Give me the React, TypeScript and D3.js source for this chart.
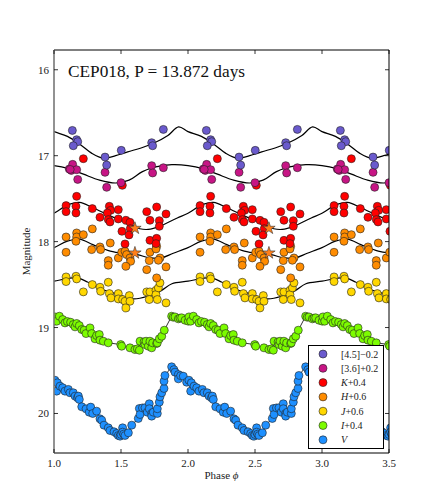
import React from "react";
import * as d3 from "d3";

// ---- data (phase-folded, one cycle; plotted magnitudes include legend offsets) ----
const irac45Phase = [0.137, 0.169, 0.177, 0.144, 0.381, 0.393, 0.502, 0.729, 0.736, 0.816];
const irac45Mag = [16.706, 16.814, 16.837, 16.884, 17.016, 17.109, 16.938, 16.849, 16.884, 16.694];

const irac36Phase = [0.114, 0.129, 0.139, 0.169, 0.177, 0.381, 0.393, 0.5, 0.729, 0.736, 0.816, 0.121];
const irac36Mag = [17.155, 17.171, 17.101, 17.163, 17.276, 17.194, 17.368, 17.314, 17.116, 17.201, 17.14, 17.16];

const kPhase = [0.219, 0.169, 0.51, 0.09, 0.09, 0.164, 0.164, 0.286, 0.413, 0.423, 0.398, 0.48, 0.343, 0.405, 0.418, 0.48, 0.537, 0.567, 0.507, 0.569, 0.56, 0.53, 0.692, 0.766, 0.836, 0.716, 0.786, 0.786, 0.716, 0.766, 0.761];
const kMag = [17.035, 17.473, 17.345, 17.581, 17.651, 17.589, 17.667, 17.616, 17.589, 17.636, 17.667, 17.628, 17.717, 17.744, 17.771, 17.736, 17.752, 17.775, 17.88, 17.849, 17.922, 18.027, 17.651, 17.597, 17.678, 17.752, 17.756, 17.822, 17.985, 17.962, 18.023];

const hPhase = [0.09, 0.169, 0.169, 0.164, 0.219, 0.286, 0.09, 0.281, 0.343, 0.348, 0.42, 0.405, 0.405, 0.48, 0.505, 0.53, 0.542, 0.567, 0.572, 0.537, 0.716, 0.711, 0.766, 0.761, 0.791, 0.779, 0.836, 0.692, 0.766];
const hMag = [17.946, 17.899, 17.946, 17.996, 17.919, 17.852, 18.124, 18.093, 18.062, 18.093, 18.016, 18.221, 18.275, 18.19, 18.124, 18.112, 18.151, 18.19, 18.229, 18.287, 18.124, 18.221, 18.055, 18.085, 18.19, 18.217, 18.294, 18.326, 18.422];

const jPhase = [0.09, 0.09, 0.164, 0.169, 0.219, 0.286, 0.343, 0.348, 0.405, 0.413, 0.425, 0.48, 0.48, 0.512, 0.53, 0.562, 0.567, 0.537, 0.692, 0.716, 0.711, 0.761, 0.761, 0.779, 0.791, 0.771, 0.836];
const jMag = [18.411, 18.465, 18.403, 18.434, 18.585, 18.5, 18.531, 18.578, 18.473, 18.605, 18.655, 18.605, 18.667, 18.674, 18.694, 18.628, 18.694, 18.772, 18.585, 18.585, 18.674, 18.566, 18.616, 18.538, 18.48, 18.674, 18.713];

const iPhase = [0.002, 0.007, 0.02, 0.04, 0.065, 0.082, 0.1, 0.124, 0.144, 0.157, 0.169, 0.189, 0.207, 0.225, 0.239, 0.269, 0.281, 0.306, 0.318, 0.338, 0.343, 0.368, 0.405, 0.498, 0.505, 0.567, 0.604, 0.622, 0.637, 0.642, 0.672, 0.679, 0.687, 0.704, 0.716, 0.729, 0.736, 0.766, 0.771, 0.786, 0.804, 0.823, 0.878, 0.89, 0.903, 0.928, 0.94, 0.953, 0.978];
const iMag = [18.926, 18.876, 18.926, 18.868, 18.907, 18.946, 18.93, 18.938, 18.965, 18.992, 18.953, 18.977, 19.023, 19.03, 19.07, 19.004, 19.07, 19.131, 19.093, 19.081, 19.147, 19.159, 19.178, 19.198, 19.217, 19.236, 19.256, 19.248, 19.264, 19.159, 19.167, 19.198, 19.159, 19.217, 19.159, 19.236, 19.178, 19.186, 19.178, 19.131, 19.101, 19.031, 18.868, 18.88, 18.876, 18.899, 18.89, 18.887, 18.915];

const vPhase = [0.007, 0.02, 0.025, 0.045, 0.065, 0.082, 0.107, 0.119, 0.144, 0.157, 0.175, 0.182, 0.189, 0.207, 0.239, 0.263, 0.274, 0.289, 0.318, 0.343, 0.356, 0.373, 0.405, 0.418, 0.448, 0.468, 0.48, 0.493, 0.5, 0.512, 0.512, 0.52, 0.53, 0.555, 0.58, 0.629, 0.637, 0.642, 0.66, 0.679, 0.696, 0.711, 0.711, 0.729, 0.729, 0.741, 0.771, 0.771, 0.786, 0.791, 0.804, 0.821, 0.821, 0.828, 0.878, 0.895, 0.903, 0.928, 0.928, 0.945, 0.965, 0.99];
const vMag = [19.613, 19.74, 19.643, 19.682, 19.701, 19.74, 19.72, 19.759, 19.759, 19.798, 19.817, 19.798, 19.837, 19.922, 19.946, 19.985, 19.926, 20.0, 19.973, 20.062, 20.078, 20.136, 20.167, 20.198, 20.213, 20.233, 20.256, 20.264, 20.245, 20.167, 20.217, 20.24, 20.256, 20.225, 20.136, 20.058, 19.942, 20.012, 19.935, 19.934, 19.985, 19.887, 19.945, 20.0, 20.031, 19.985, 20.0, 19.945, 19.868, 19.806, 19.759, 19.709, 19.624, 19.558, 19.457, 19.49, 19.519, 19.547, 19.597, 19.56, 19.566, 19.636];

// template curves (one cycle)
const tpl45Phase = [0, 0.1, 0.2, 0.28, 0.37, 0.46, 0.55, 0.65, 0.75, 0.85, 0.93];
const tpl45Mag = [16.72, 16.775, 16.875, 16.97, 17.03, 17.0, 16.955, 16.91, 16.85, 16.765, 16.665];
const tpl36Phase = [0, 0.11, 0.22, 0.34, 0.46, 0.56, 0.66, 0.76, 0.88];
const tpl36Mag = [17.115, 17.15, 17.215, 17.285, 17.318, 17.285, 17.185, 17.13, 17.105];
const tplKPhase = [0, 0.1, 0.19, 0.29, 0.42, 0.54, 0.64, 0.72, 0.82, 0.92];
const tplKMag = [17.67, 17.575, 17.543, 17.605, 17.7, 17.775, 17.85, 17.855, 17.8, 17.725];
const tplHPhase = [0, 0.1, 0.19, 0.29, 0.42, 0.54, 0.62, 0.72, 0.8, 0.89];
const tplHMag = [18.07, 17.995, 17.97, 18.035, 18.11, 18.14, 18.152, 18.19, 18.19, 18.135];
const tplJPhase = [0, 0.1, 0.17, 0.25, 0.34, 0.47, 0.59, 0.7, 0.8, 0.88];
const tplJMag = [18.46, 18.43, 18.42, 18.47, 18.545, 18.61, 18.665, 18.635, 18.57, 18.49];

const starPhase = [0.604, 0.604];
const starMag = [17.845, 18.132];

const legendLabels = ["[4.5]\u22120.2", "[3.6]+0.2", "K+0.4", "H+0.6", "J+0.6", "I+0.4", "V"];
const xTicks = [1.0, 1.5, 2.0, 2.5, 3.0, 3.5];
const yTicks = [16, 17, 18, 19, 20];
const titleText = "CEP018, P = 13.872 days";

const W = 432, H = 504;
const L = 54, R = 389, T = 50, B = 453;
const x = d3.scaleLinear().domain([1, 3.5]).range([L, R]);
const y = d3.scaleLinear().domain([15.77, 20.46]).range([T, B]);
const cycles = [0, 1, 2, 3];

const FONT = "'Liberation Serif', 'Times New Roman', 'DejaVu Serif', serif";

function fold(ph: number[], mg: number[]) {
  const pts: [number, number][] = [];
  cycles.forEach((c) => ph.forEach((p, i) => pts.push([p + c, mg[i]])));
  return pts;
}
function foldSorted(ph: number[], mg: number[]) {
  return fold(ph, mg).sort((a, b) => a[0] - b[0]);
}

const series = [
  { key: "45", ph: irac45Phase, mg: irac45Mag, color: "#6a5acd", tp: tpl45Phase, tm: tpl45Mag },
  { key: "36", ph: irac36Phase, mg: irac36Mag, color: "#c71585", tp: tpl36Phase, tm: tpl36Mag },
  { key: "K", ph: kPhase, mg: kMag, color: "#ff0000", tp: tplKPhase, tm: tplKMag },
  { key: "H", ph: hPhase, mg: hMag, color: "#ff8c00", tp: tplHPhase, tm: tplHMag },
  { key: "J", ph: jPhase, mg: jMag, color: "#ffd700", tp: tplJPhase, tm: tplJMag },
  { key: "I", ph: iPhase, mg: iMag, color: "#7cfc00", tp: null, tm: null },
  { key: "V", ph: vPhase, mg: vMag, color: "#1e90ff", tp: null, tm: null },
];

const lineGen = d3
  .line<[number, number]>()
  .x((d) => x(d[0]))
  .y((d) => y(d[1]));
const smoothGen = d3
  .line<[number, number]>()
  .x((d) => x(d[0]))
  .y((d) => y(d[1]))
  .curve(d3.curveCatmullRom.alpha(0.5));

const starPath = d3.symbol().type(d3.symbolStar).size(48)() as string;

export default function App() {
  return (
    <svg width={W} height={H} style={{ position: "absolute", left: 0, top: 0, background: "#fff" }}>
      <defs>
        <clipPath id="plotclip">
          <rect x={L} y={T} width={R - L} height={B - T} />
        </clipPath>
      </defs>
      <rect x={0} y={0} width={W} height={H} fill="#fff" />
      <g clipPath="url(#plotclip)">
        {series.map((s) =>
          s.tp ? (
            <path key={"c" + s.key} d={smoothGen(foldSorted(s.tp, s.tm as number[]).concat([[4 + s.tp[0], (s.tm as number[])[0]]])) || ""} fill="none" stroke="#000" strokeWidth={1.2} />
          ) : (
            <path key={"c" + s.key} d={lineGen(foldSorted(s.ph, s.mg)) || ""} fill="none" stroke="#000" strokeWidth={0.8} />
          )
        )}
        {series
          .slice()
          .reverse()
          .map((s) => (
            <g key={"p" + s.key}>
              {fold(s.ph, s.mg).map((d, i) => (
                <circle key={i} cx={x(d[0])} cy={y(d[1])} r={4} fill={s.color} stroke="#222" strokeWidth={0.6} />
              ))}
            </g>
          ))}
        {cycles.map((c) =>
          starPhase.map((p, i) => (
            <path key={"s" + c + i} d={starPath} transform={`translate(${x(p + c)},${y(starMag[i])})`} fill="#ff7f1a" stroke="#333" strokeWidth={0.6} />
          ))
        )}
      </g>
      {/* frame */}
      <line x1={L} x2={R} y1={T} y2={T} stroke="#000" strokeWidth={1} />
      <line x1={R} x2={R} y1={T} y2={B} stroke="#000" strokeWidth={1} />
      <line x1={L} x2={R} y1={B} y2={B} stroke="#000" strokeWidth={1} />
      <line x1={L} x2={L} y1={T} y2={B} stroke="#777" strokeWidth={1.6} />
      {/* ticks */}
      {xTicks.map((t) => (
        <g key={"xt" + t}>
          <line x1={x(t)} x2={x(t)} y1={B} y2={B - 4} stroke="#000" strokeWidth={0.8} />
          <line x1={x(t)} x2={x(t)} y1={T} y2={T + 4} stroke="#000" strokeWidth={0.8} />
          <text x={x(t)} y={467} textAnchor="middle" fontFamily={FONT} fontSize={11} fill="#222">
            {t.toFixed(1)}
          </text>
        </g>
      ))}
      {yTicks.map((t) => (
        <g key={"yt" + t}>
          <line x1={L} x2={L + 4} y1={y(t)} y2={y(t)} stroke="#000" strokeWidth={0.8} />
          <line x1={R} x2={R - 4} y1={y(t)} y2={y(t)} stroke="#000" strokeWidth={0.8} />
          <text x={49} y={y(t) + 4} textAnchor="end" fontFamily={FONT} fontSize={11} fill="#222">
            {t}
          </text>
        </g>
      ))}
      <text x={(L + R) / 2} y={479} textAnchor="middle" fontFamily={FONT} fontSize={11} fill="#222">
        Phase <tspan fontStyle="italic">ϕ</tspan>
      </text>
      <text transform={`translate(30,${(T + B) / 2}) rotate(-90)`} textAnchor="middle" fontFamily={FONT} fontSize={11} fill="#222">
        Magnitude
      </text>
      <text x={68} y={77} fontFamily={FONT} fontSize={16.5} fill="#111" textLength={177} lengthAdjust="spacingAndGlyphs">
        {titleText}
      </text>
      {/* legend */}
      <g>
        <rect x={308.5} y={345.5} width={75} height={103} fill="#fff" stroke="#000" strokeWidth={1} />
        {legendLabels.map((lab, i) => {
          const yy = 354 + i * 14.3;
          const s = series[i];
          const m = lab.match(/^([KHJIV])(.*)$/);
          return (
            <g key={"lg" + i}>
              <circle cx={323} cy={yy} r={4} fill={s.color} stroke="#222" strokeWidth={0.6} />
              <text x={341} y={yy + 3.5} fontFamily={FONT} fontSize={10} fill="#222">
                {m ? (
                  <>
                    <tspan fontStyle="italic">{m[1]}</tspan>
                    {m[2]}
                  </>
                ) : (
                  lab
                )}
              </text>
            </g>
          );
        })}
      </g>
    </svg>
  );
}
